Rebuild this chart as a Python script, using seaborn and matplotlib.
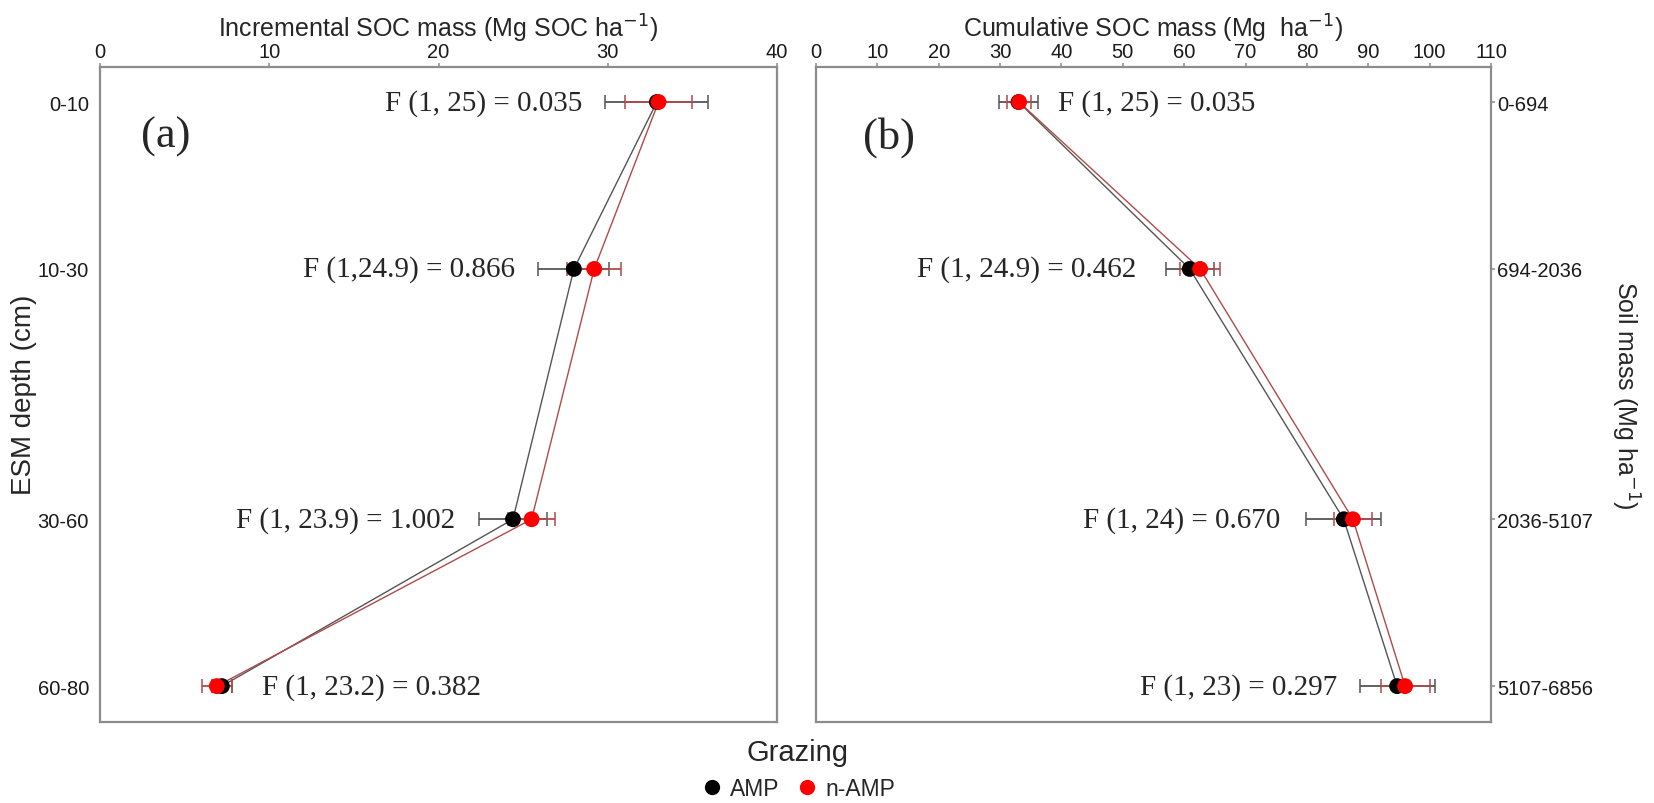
import matplotlib
matplotlib.use("Agg")
import matplotlib.pyplot as plt
import seaborn as sns
import pandas as pd
import numpy as np

# depth categories (bottom of each ESM layer) and labels
depth_pos = [10, 30, 60, 80]
depth_labels = ["0-10", "10-30", "30-60", "60-80"]
soil_mass_labels = ["0-694", "694-2036", "2036-5107", "5107-6856"]
groups = ["AMP", "n-AMP"]

# incremental SOC mass (Mg SOC ha-1)
inc_amp = [32.9, 28.0, 24.4, 7.2]
inc_amp_se = [3.05, 2.1, 2.0, 0.6]
inc_namp = [33.0, 29.2, 25.5, 6.9]
inc_namp_se = [2.0, 1.6, 1.4, 0.9]

# cumulative SOC mass (Mg ha-1)
cum_amp = [33.0, 60.9, 86.0, 94.7]
cum_amp_se = [3.2, 3.9, 6.1, 6.1]
cum_namp = [33.1, 62.6, 87.5, 96.0]
cum_namp_se = [1.95, 3.3, 3.15, 4.0]

inc_stats = ["F (1, 25) = 0.035", "F (1,24.9) = 0.866", "F (1, 23.9) = 1.002", "F (1, 23.2) = 0.382"]
cum_stats = ["F (1, 25) = 0.035", "F (1, 24.9) = 0.462", "F (1, 24) = 0.670", "F (1, 23) = 0.297"]


def make_df(amp, amp_se, namp, namp_se):
    return pd.DataFrame({
        "depth": depth_pos * 2,
        "soc": amp + namp,
        "se": amp_se + namp_se,
        "grazing": ["AMP"] * 4 + ["n-AMP"] * 4,
    })


inc_df = make_df(inc_amp, inc_amp_se, inc_namp, inc_namp_se)
cum_df = make_df(cum_amp, cum_amp_se, cum_namp, cum_namp_se)

sns.set_theme(style="white")
plt.rcParams["font.family"] = ["Liberation Sans", "DejaVu Sans"]

point_col = {"AMP": "#000000", "n-AMP": "#ff0000"}
line_col = {"AMP": "#555555", "n-AMP": "#b04a4a"}
frame_col = "#8c8c8c"

fig = plt.figure(figsize=(16.54, 8.04), dpi=100)
ax1 = fig.add_axes([100 / 1654, 81 / 804, 677 / 1654, 655 / 804])
ax2 = fig.add_axes([816 / 1654, 81 / 804, 675 / 1654, 655 / 804])


def draw_panel(ax, df):
    sns.lineplot(data=df, x="soc", y="depth", hue="grazing", orient="y",
                 palette=line_col, linewidth=1.0, legend=False, ax=ax, zorder=2)
    for g in groups:
        sub = df[df.grazing == g]
        ax.errorbar(sub.soc, sub.depth, xerr=sub.se, fmt="none",
                    ecolor=line_col[g], elinewidth=1.3, capsize=5,
                    capthick=1.1, zorder=3)
    sns.scatterplot(data=df, x="soc", y="depth", hue="grazing", palette=point_col,
                    s=130, linewidth=0, legend=False, ax=ax, zorder=4)
    ax.set_ylim(84.3, 5.8)
    ax.set_yticks(depth_pos)
    ax.set_xlabel("")
    ax.set_ylabel("")
    ax.xaxis.tick_top()
    for s in ax.spines.values():
        s.set_color(frame_col)
        s.set_linewidth(1.6)
    ax.tick_params(axis="both", colors=frame_col, labelcolor="#1a1a1a",
                   labelsize=14.5, length=3, width=1.1, pad=1.5)


draw_panel(ax1, inc_df)
ax1.set_xlim(0, 40)
ax1.set_xticks([0, 10, 20, 30, 40])
ax1.set_yticklabels(depth_labels)
ax1.tick_params(axis="y", pad=5)

draw_panel(ax2, cum_df)
ax2.set_xlim(0, 110)
ax2.set_xticks(np.arange(0, 111, 10))
ax2.yaxis.tick_right()
ax2.set_yticklabels(soil_mass_labels)

serif = ["Liberation Serif", "DejaVu Serif"]
# F statistics, placed next to each layer
inc_txt_x = [28.5, 24.5, 21.0, 9.6]
inc_txt_ha = ["right", "right", "right", "left"]
for x, y, t, ha in zip(inc_txt_x, depth_pos, inc_stats, inc_txt_ha):
    ax1.text(x, y, t, ha=ha, va="center", fontsize=21, family=serif)
cum_txt_x = [39.5, 52.2, 75.6, 85.0]
cum_txt_ha = ["left", "right", "right", "right"]
for x, y, t, ha in zip(cum_txt_x, depth_pos, cum_stats, cum_txt_ha):
    ax2.text(x, y, t, ha=ha, va="center", fontsize=21, family=serif)

ax1.text(2.4, 14.1, "(a)", ha="left", va="center", fontsize=32, family=serif)
ax2.text(7.7, 14.1, "(b)", ha="left", va="center", fontsize=32, family=serif)

# axis titles (centred on the panels)
fig.text(438 / 1654, 1 - 29 / 804, r"Incremental SOC mass (Mg SOC ha$^{-1}$)",
         ha="center", va="center", fontsize=18)
fig.text(1153 / 1654, 1 - 29 / 804, r"Cumulative SOC mass (Mg  ha$^{-1}$)",
         ha="center", va="center", fontsize=18)
fig.text(24 / 1654, 1 - 395 / 804, "ESM depth (cm)", rotation=90,
         ha="center", va="center", fontsize=20)
fig.text(1625 / 1654, 1 - 395 / 804, r"Soil mass (Mg ha$^{-1}$)", rotation=270,
         ha="center", va="center", fontsize=18)

handles = [plt.Line2D([], [], marker="o", linestyle="none", markersize=11,
                      markerfacecolor=point_col[g], markeredgewidth=0) for g in groups]
leg = fig.legend(handles, groups, title="Grazing", ncol=2, frameon=False,
                 loc="lower center", bbox_to_anchor=(797 / 1654, 3 / 804),
                 borderpad=0, borderaxespad=0,
                 fontsize=16.5, title_fontsize=21, handletextpad=0.2,
                 columnspacing=0.6, handlelength=1.2)

fig.savefig("out.png", dpi=100)
